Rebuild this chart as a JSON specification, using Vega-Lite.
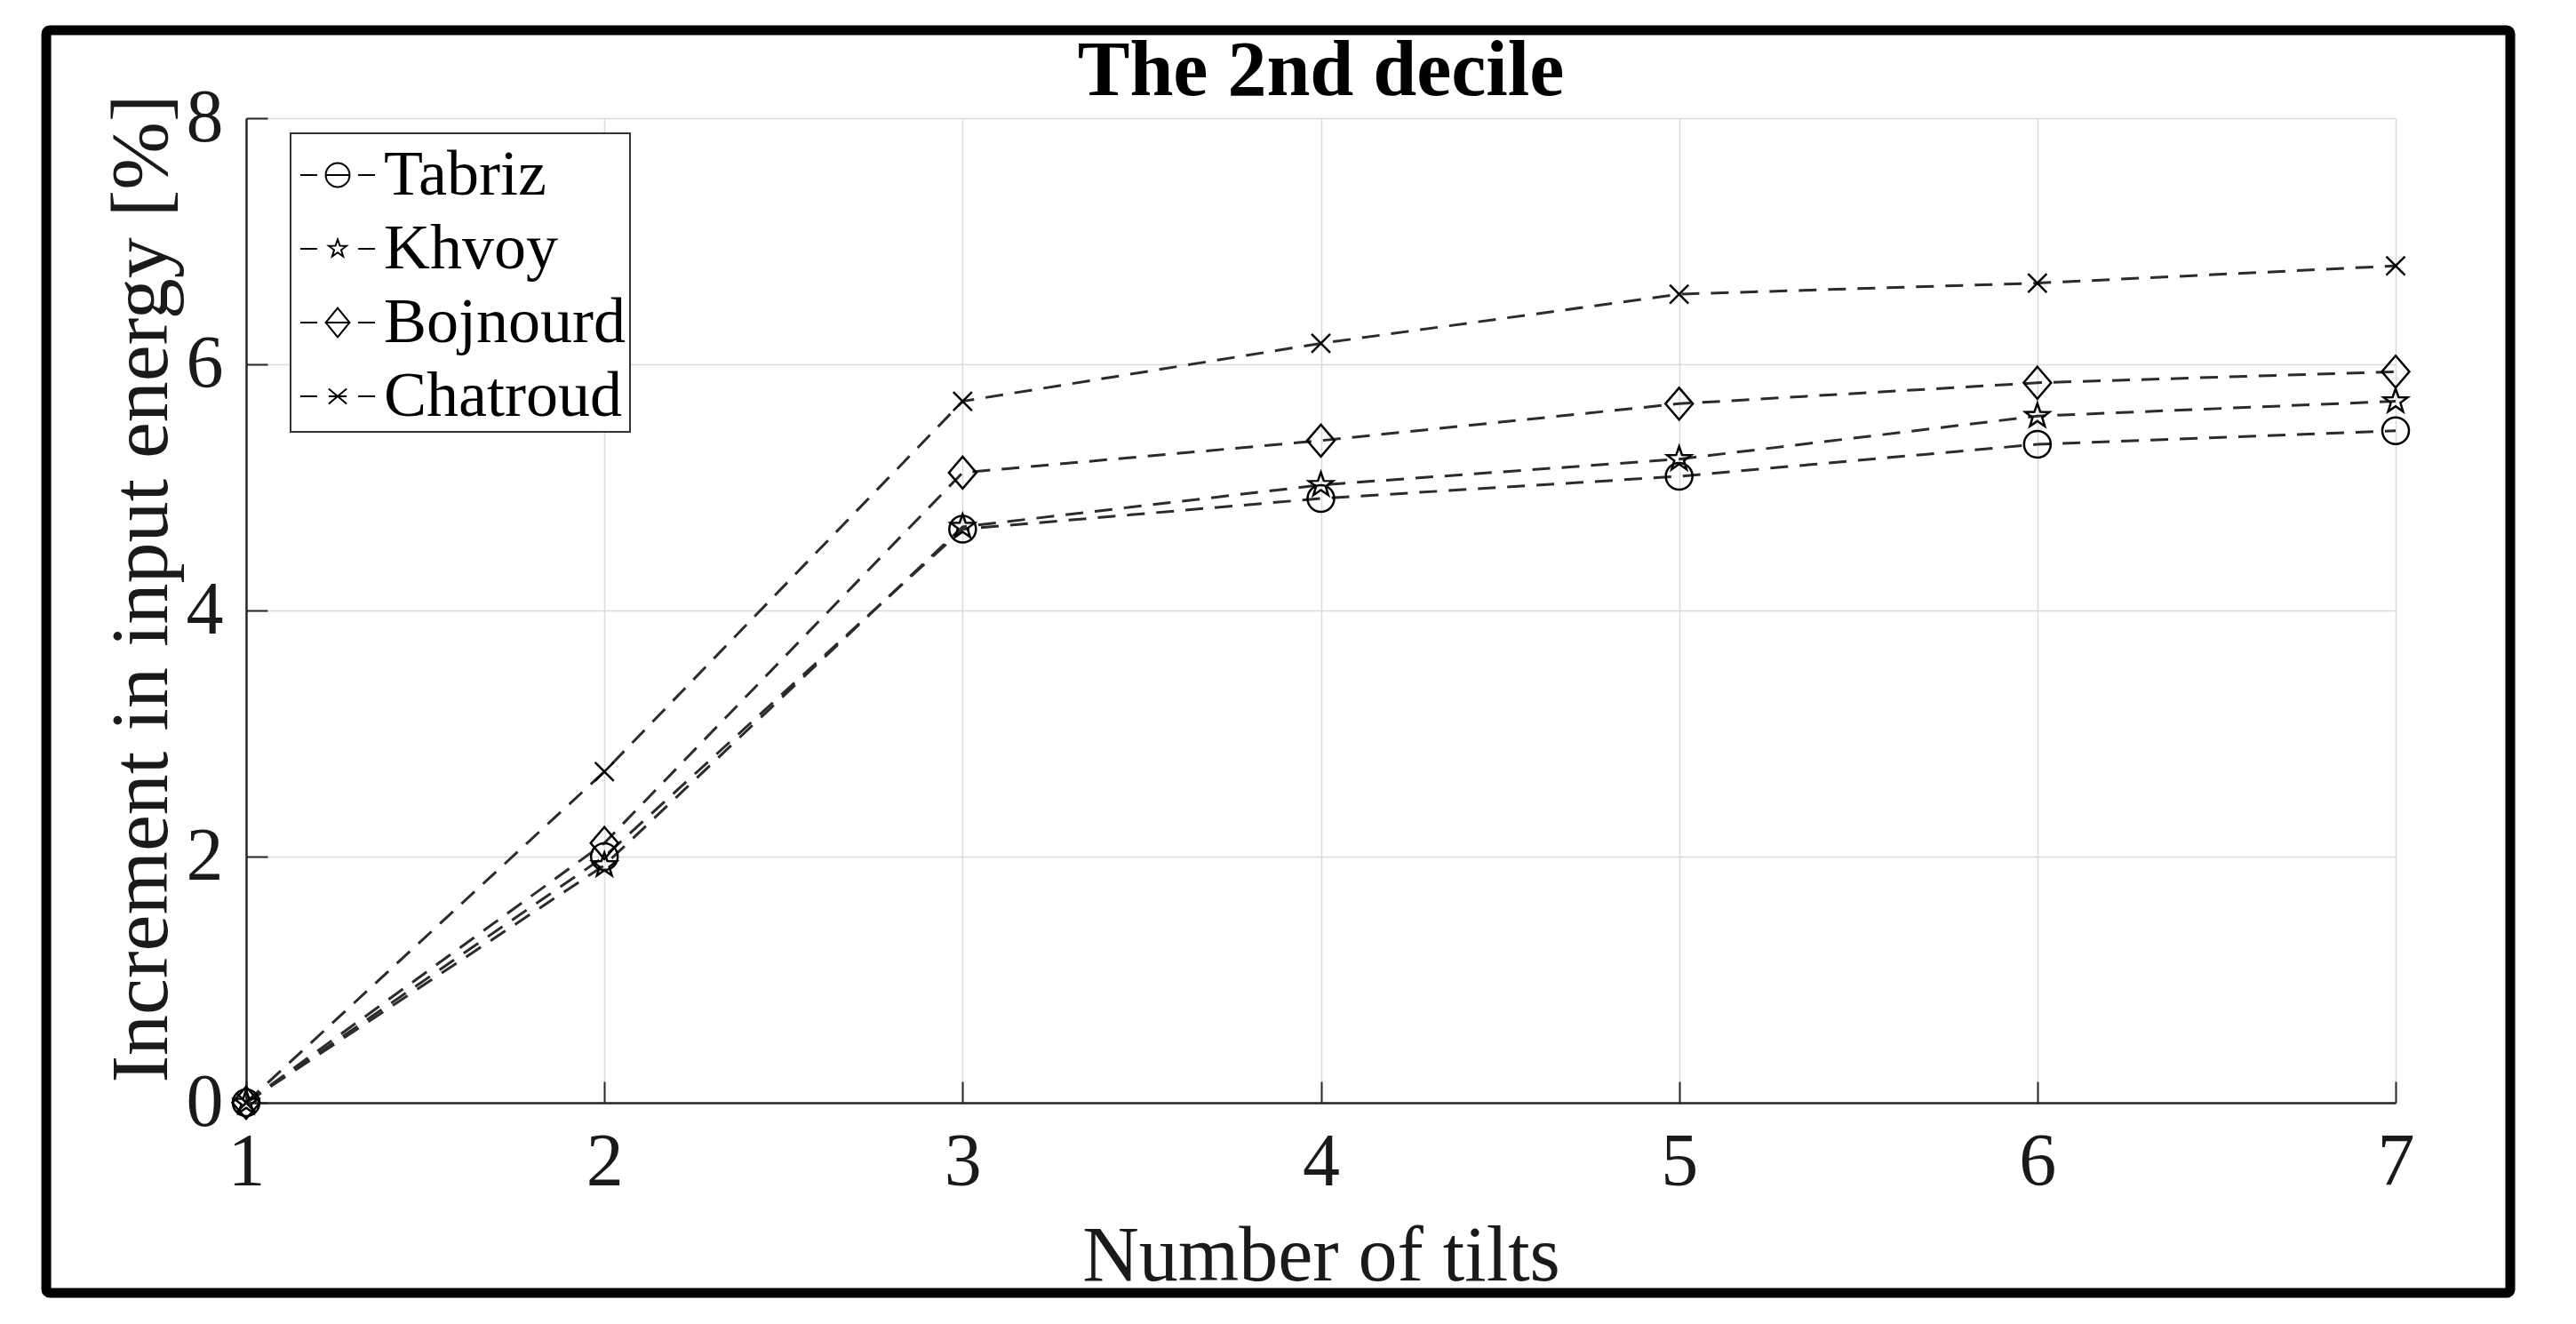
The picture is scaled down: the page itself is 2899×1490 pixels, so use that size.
{
  "$schema": "https://vega.github.io/schema/vega-lite/v6.json",
  "width": 2419,
  "height": 1108,
  "padding": {"left": 46, "top": 28, "right": 0, "bottom": 0},
  "background": "white",
  "title": {"text": "The 2nd decile", "fontSize": 88, "fontWeight": "bold", "font": "Liberation Serif", "color": "black", "anchor": "middle", "frame": "group", "baseline": "alphabetic", "offset": -167},
  "data": {"values": [
    {"city": "Tabriz", "tilts": 1, "value": 0},
    {"city": "Tabriz", "tilts": 2, "value": 2.0},
    {"city": "Tabriz", "tilts": 3, "value": 4.66},
    {"city": "Tabriz", "tilts": 4, "value": 4.91},
    {"city": "Tabriz", "tilts": 5, "value": 5.09},
    {"city": "Tabriz", "tilts": 6, "value": 5.35},
    {"city": "Tabriz", "tilts": 7, "value": 5.46},
    {"city": "Khvoy", "tilts": 1, "value": 0},
    {"city": "Khvoy", "tilts": 2, "value": 1.93},
    {"city": "Khvoy", "tilts": 3, "value": 4.68},
    {"city": "Khvoy", "tilts": 4, "value": 5.02},
    {"city": "Khvoy", "tilts": 5, "value": 5.23},
    {"city": "Khvoy", "tilts": 6, "value": 5.58},
    {"city": "Khvoy", "tilts": 7, "value": 5.70},
    {"city": "Bojnourd", "tilts": 1, "value": 0},
    {"city": "Bojnourd", "tilts": 2, "value": 2.11},
    {"city": "Bojnourd", "tilts": 3, "value": 5.12},
    {"city": "Bojnourd", "tilts": 4, "value": 5.38},
    {"city": "Bojnourd", "tilts": 5, "value": 5.68},
    {"city": "Bojnourd", "tilts": 6, "value": 5.85},
    {"city": "Bojnourd", "tilts": 7, "value": 5.94},
    {"city": "Chatroud", "tilts": 1, "value": 0},
    {"city": "Chatroud", "tilts": 2, "value": 2.69},
    {"city": "Chatroud", "tilts": 3, "value": 5.70},
    {"city": "Chatroud", "tilts": 4, "value": 6.17},
    {"city": "Chatroud", "tilts": 5, "value": 6.57},
    {"city": "Chatroud", "tilts": 6, "value": 6.66},
    {"city": "Chatroud", "tilts": 7, "value": 6.80}
  ]},
  "layer": [
    {
      "mark": {"type": "line", "color": "#2b2b2b", "strokeWidth": 3, "strokeDash": [20, 13]},
      "encoding": {
        "x": {"field": "tilts", "type": "quantitative", "scale": {"domain": [1, 7], "nice": false, "zero": false},
          "axis": {"values": [1, 2, 3, 4, 5, 6, 7], "title": "Number of tilts", "titleY": 199, "titleBaseline": "alphabetic", "labelPadding": 50}},
        "y": {"field": "value", "type": "quantitative", "scale": {"domain": [0, 8], "nice": false, "zero": false},
          "axis": {"values": [0, 2, 4, 6, 8], "title": "Increment in input energy [%]", "titleX": -90, "titleY": 529, "titleBaseline": "alphabetic", "titleFontSize": 92, "labelPadding": 50}},
        "detail": {"field": "city", "type": "nominal"}
      }
    },
    {
      "mark": {"type": "point", "filled": false, "stroke": "black", "strokeWidth": 2.5, "size": 900, "opacity": 1},
      "encoding": {
        "x": {"field": "tilts", "type": "quantitative", "scale": {"domain": [1, 7], "nice": false, "zero": false},
          "axis": {"values": [1, 2, 3, 4, 5, 6, 7], "title": "Number of tilts", "titleY": 199, "titleBaseline": "alphabetic", "labelPadding": 50}},
        "y": {"field": "value", "type": "quantitative", "scale": {"domain": [0, 8], "nice": false, "zero": false},
          "axis": {"values": [0, 2, 4, 6, 8], "title": "Increment in input energy [%]", "titleX": -90, "titleY": 529, "titleBaseline": "alphabetic", "titleFontSize": 92, "labelPadding": 50}},
        "shape": {"field": "city", "type": "nominal", "legend": null,
          "scale": {"domain": ["Tabriz", "Khvoy", "Bojnourd", "Chatroud"],
            "range": [
              "M1,0A1,1 0 1,1 -1,0A1,1 0 1,1 1,0Z",
              "M0,-0.95L0.223,-0.307L0.903,-0.294L0.361,0.117L0.559,0.769L0,0.38L-0.559,0.769L-0.361,0.117L-0.903,-0.294L-0.223,-0.307Z",
              "M0,-1.2L1.03,0L0,1.2L-1.03,0Z",
              "M-0.7,-0.7L0.7,0.7M-0.7,0.7L0.7,-0.7"
            ]}}
      }
    },
    {
      "mark": {"type": "point", "filled": false, "stroke": "black", "strokeWidth": 2, "size": 7056, "opacity": 0},
      "encoding": {
        "x": {"field": "tilts", "type": "quantitative", "scale": {"domain": [1, 7], "nice": false, "zero": false},
          "axis": {"values": [1, 2, 3, 4, 5, 6, 7], "title": "Number of tilts", "titleY": 199, "titleBaseline": "alphabetic", "labelPadding": 50}},
        "y": {"field": "value", "type": "quantitative", "scale": {"domain": [0, 8], "nice": false, "zero": false},
          "axis": {"values": [0, 2, 4, 6, 8], "title": "Increment in input energy [%]", "titleX": -90, "titleY": 529, "titleBaseline": "alphabetic", "titleFontSize": 92, "labelPadding": 50}},
        "shape": {"field": "city", "type": "nominal",
          "scale": {"domain": ["Tabriz", "Khvoy", "Bojnourd", "Chatroud"],
            "range": [
              "M-1,0L-0.55,0M0.55,0L1,0M0.32,0A0.32,0.32 0 1,1 -0.32,0A0.32,0.32 0 1,1 0.32,0M-0.32,0L0.32,0",
              "M-1,0L-0.55,0M0.55,0L1,0M0,-0.25L0.059,-0.081L0.238,-0.077L0.095,0.031L0.147,0.202L0,0.1L-0.147,0.202L-0.095,0.031L-0.238,-0.077L-0.059,-0.081Z",
              "M-1,0L-0.55,0M0.55,0L1,0M0,-0.39L0.32,0L0,0.39L-0.32,0ZM-0.32,0L0.32,0",
              "M-1,0L-0.55,0M0.55,0L1,0M-0.24,-0.2L0.24,0.2M-0.24,0.2L0.24,-0.2M-0.24,0L0.24,0"
            ]},
          "legend": {"title": null, "orient": "none", "legendX": 50, "legendY": 17,
            "symbolSize": 7056, "symbolOpacity": 1, "symbolStrokeColor": "black", "symbolFillColor": "transparent", "symbolStrokeWidth": 2,
            "symbolOffset": 6, "labelOffset": 9, "labelFontSize": 72, "labelFont": "Liberation Serif", "labelColor": "black", "labelLimit": 0,
            "padding": 4, "rowPadding": 4, "strokeColor": "#333333", "fillColor": "white",
            "labelBaseline": "middle"}}
      }
    },
    {
      "data": {"values": [{}]},
      "mark": {"type": "rect", "filled": false, "stroke": "black", "strokeWidth": 11, "cornerRadius": 4},
      "encoding": {
        "x": {"datum": 0.442, "type": "quantitative", "scale": {"domain": [1, 7], "nice": false, "zero": false},
          "axis": {"values": [1, 2, 3, 4, 5, 6, 7], "title": "Number of tilts", "titleY": 199, "titleBaseline": "alphabetic", "labelPadding": 50}},
        "x2": {"datum": 7.32},
        "y": {"datum": 8.715, "type": "quantitative", "scale": {"domain": [0, 8], "nice": false, "zero": false},
          "axis": {"values": [0, 2, 4, 6, 8], "title": "Increment in input energy [%]", "titleX": -90, "titleY": 529, "titleBaseline": "alphabetic", "titleFontSize": 92, "labelPadding": 50}},
        "y2": {"datum": -1.545}
      }
    }
  ],
  "resolve": {"scale": {"shape": "independent"}},
  "config": {
    "view": {"stroke": null},
    "font": "Liberation Serif",
    "axis": {
      "labelFont": "Liberation Serif", "labelFontSize": 84, "labelColor": "#1a1a1a", "labelFlush": false, "labelOverlap": false,
      "titleFont": "Liberation Serif", "titleFontSize": 88, "titleFontWeight": "normal", "titleColor": "#1a1a1a",
      "tickSize": -24, "tickColor": "#262626", "tickWidth": 2,
      "domainColor": "#262626", "domainWidth": 2.5,
      "grid": true, "gridColor": "#dadada", "gridWidth": 1.5
    },
    "legend": {"strokeWidth": 2}
  }
}
